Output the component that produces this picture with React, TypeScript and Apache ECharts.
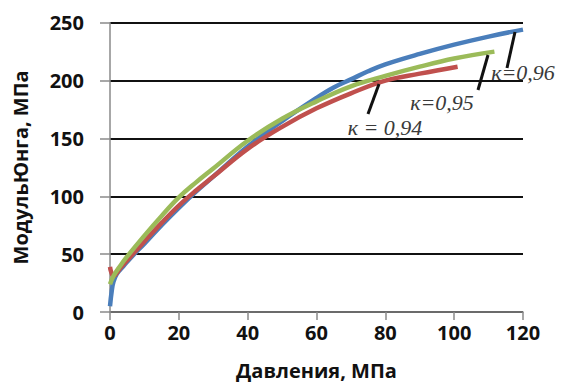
import React, { useEffect, useRef } from "react";
import * as echarts from "echarts";

const xTicks = [0, 20, 40, 60, 80, 100, 120];
const yTicks = [0, 50, 100, 150, 200, 250];

const seriesNames = ["к=0,96", "к = 0,94", "к=0,95"];
const seriesColors = ["#4A7EBB", "#C0504D", "#9BBB59"];

const blueK096: [number, number][] = [
  [0, 5], [0.5, 18], [1, 26], [2, 33], [4, 40], [7, 50], [10, 59], [15, 75],
  [20, 90], [25, 104], [30, 117], [40, 143], [50, 165], [60, 185], [65, 194],
  [70, 201], [75, 208], [80, 214], [90, 223], [100, 231], [110, 238], [120, 244],
];
const redK094: [number, number][] = [
  [0, 39], [0.3, 35], [1, 31], [3, 38], [6, 48], [10, 61], [15, 77], [20, 92],
  [25, 105], [30, 117], [40, 141], [50, 160], [60, 176], [70, 189], [80, 200],
  [90, 206], [101, 212],
];
const greenK095: [number, number][] = [
  [0, 24], [1, 31], [3, 40], [5, 48], [10, 66], [15, 83], [20, 99], [25, 112],
  [30, 124], [40, 148], [50, 167], [60, 182], [70, 195], [80, 204], [90, 212],
  [100, 219], [111.7, 225],
];

const annotations = [
  { label: "к = 0,94", x: 385, y: 127, line: [379, 84, 368, 114] },
  { label: "к=0,95", x: 442, y: 102, line: [488, 55, 478, 90] },
  { label: "к=0,96", x: 523, y: 72, line: [515, 32, 507, 68] },
];

export default function App() {
  const ref = useRef<HTMLDivElement>(null);
  useEffect(() => {
    if (!ref.current) return;
    const chart = echarts.init(ref.current, undefined, { renderer: "svg" });
    const datasets = [blueK096, redK094, greenK095];
    chart.setOption({
      animation: false,
      backgroundColor: "#ffffff",
      grid: { left: 110, right: 38, top: 22.7, bottom: 68 },
      xAxis: {
        type: "value",
        min: 0,
        max: 120,
        interval: 20,
        name: "Давления, МПа",
        nameLocation: "middle",
        nameGap: 48,
        nameTextStyle: { fontFamily: "Open Sans", fontWeight: "bold", fontSize: 20, color: "#111" },
        axisLine: { show: true, lineStyle: { color: "#8a8a8a", width: 1.5 } },
        axisTick: { show: true, length: 8, lineStyle: { color: "#8a8a8a", width: 1.5 } },
        axisLabel: {
          fontFamily: "Open Sans", fontWeight: "bold", fontSize: 20, color: "#111", margin: 10,
          formatter: (v: number) => (xTicks.includes(v) ? String(v) : ""),
        },
        splitLine: { show: false },
      },
      yAxis: {
        type: "value",
        min: 0,
        max: 250,
        interval: 50,
        name: "МодульЮнга, МПа",
        nameLocation: "middle",
        nameGap: 80,
        nameTextStyle: { fontFamily: "Open Sans", fontWeight: "bold", fontSize: 20, color: "#111" },
        axisLine: { show: true, lineStyle: { color: "#8a8a8a", width: 1.5 } },
        axisTick: { show: true, length: 10, lineStyle: { color: "#8a8a8a", width: 1.5 } },
        axisLabel: {
          fontFamily: "Open Sans", fontWeight: "bold", fontSize: 20, color: "#111", margin: 26,
          formatter: (v: number) => (yTicks.includes(v) ? String(v) : ""),
        },
        splitLine: { show: true, lineStyle: { color: "#111", width: 2 } },
      },
      series: datasets.map((d, i) => ({
        type: "line",
        name: seriesNames[i],
        data: d,
        smooth: 0.4,
        showSymbol: false,
        symbol: "none",
        lineStyle: { color: seriesColors[i], width: 4.5 },
        z: 3 + i,
      })),
      graphic: annotations.flatMap((a) => [
        {
          type: "line",
          z: 100,
          shape: { x1: a.line[0], y1: a.line[1], x2: a.line[2], y2: a.line[3] },
          style: { stroke: "#111", lineWidth: 3 },
        },
        {
          type: "text",
          z: 100,
          x: a.x,
          y: a.y,
          style: {
            text: a.label,
            fontFamily: "Liberation Serif",
            fontStyle: "italic",
            fontSize: 22,
            fill: "#3a3a3a",
            align: "center",
            verticalAlign: "middle",
          },
        },
      ]),
    });
    return () => chart.dispose();
  }, []);
  return (
    <div
      ref={ref}
      style={{ position: "fixed", left: 0, top: 0, width: 561, height: 385 }}
    />
  );
}
